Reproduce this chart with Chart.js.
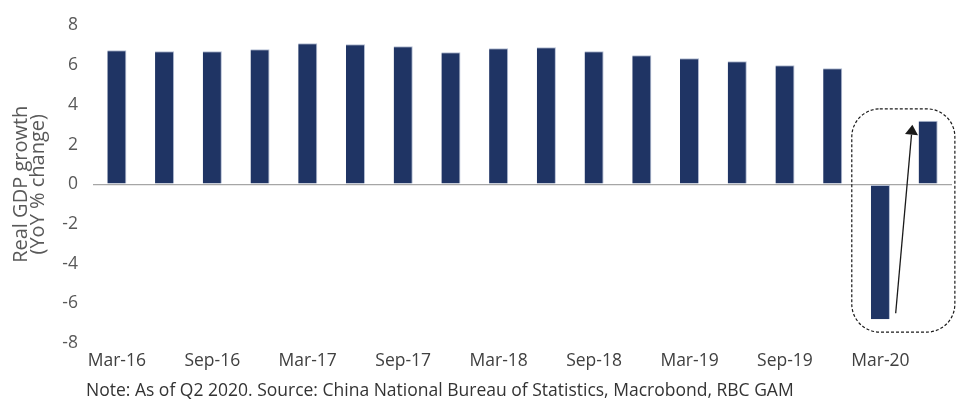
<!DOCTYPE html>
<html>
<head>
<meta charset="utf-8">
<script src="https://cdn.jsdelivr.net/npm/chart.js@4.4.1/dist/chart.umd.min.js"></script>
<style>
  html, body { margin: 0; padding: 0; background: #ffffff; }
  #wrap { width: 960px; height: 401px; }
</style>
</head>
<body>
<div id="wrap"><canvas id="gdpChart" width="960" height="401"></canvas></div>
<script>
// quarterly real GDP growth, YoY %
const categories = [
  "Mar-16", "Jun-16", "Sep-16", "Dec-16",
  "Mar-17", "Jun-17", "Sep-17", "Dec-17",
  "Mar-18", "Jun-18", "Sep-18", "Dec-18",
  "Mar-19", "Jun-19", "Sep-19", "Dec-19",
  "Mar-20", "Jun-20"
];
const gdpGrowth = [
  6.75, 6.7, 6.7, 6.8,
  7.1, 7.05, 6.95, 6.65,
  6.85, 6.9, 6.7, 6.5,
  6.35, 6.2, 6.0, 5.85,
  -6.8, 3.2
];
const yMin = -8;
const yMax = 8;
const yStep = 2;
const yTitle = ["Real GDP growth", "(YoY % change)"];
const noteText = "Note: As of Q2 2020. Source: China National Bureau of Statistics, Macrobond, RBC GAM";

// highlight around the covid drop and rebound (in category index / value units)
const highlightX = [15.4, 17.56];
const highlightY = [3.8, -7.45];
const arrowFrom = [16.32, -6.5];
const arrowTo = [16.67, 3.0];

/**************************************
 *   DESENHA CAIXA, SETA E NOTA
 **************************************/
const annotationPlugin = {
  id: "highlight",
  afterDraw(chart) {
    const ctx = chart.ctx;
    const xs = chart.scales.x;
    const ys = chart.scales.y;

    // dashed rounded box
    const x0 = xs.getPixelForValue(highlightX[0]);
    const x1 = xs.getPixelForValue(highlightX[1]);
    const y0 = ys.getPixelForValue(highlightY[0]);
    const y1 = ys.getPixelForValue(highlightY[1]);
    ctx.save();
    ctx.strokeStyle = "#1a1a1a";
    ctx.lineWidth = 1.2;
    ctx.setLineDash([3, 2]);
    ctx.beginPath();
    ctx.roundRect(x0, y0, x1 - x0, y1 - y0, 28);
    ctx.stroke();
    ctx.restore();

    // arrow
    const ax0 = xs.getPixelForValue(arrowFrom[0]);
    const ay0 = ys.getPixelForValue(arrowFrom[1]);
    const ax1 = xs.getPixelForValue(arrowTo[0]);
    const ay1 = ys.getPixelForValue(arrowTo[1]);
    const ang = Math.atan2(ay1 - ay0, ax1 - ax0);
    const headLen = 10;
    const headHalf = 6.5;
    const bx = ax1 - headLen * Math.cos(ang);
    const by = ay1 - headLen * Math.sin(ang);
    ctx.save();
    ctx.strokeStyle = "#1a1a1a";
    ctx.fillStyle = "#1a1a1a";
    ctx.lineWidth = 1.3;
    ctx.beginPath();
    ctx.moveTo(ax0, ay0);
    ctx.lineTo(bx, by);
    ctx.stroke();
    ctx.beginPath();
    ctx.moveTo(ax1, ay1);
    ctx.lineTo(bx + headHalf * Math.sin(ang), by - headHalf * Math.cos(ang));
    ctx.lineTo(bx - headHalf * Math.sin(ang), by + headHalf * Math.cos(ang));
    ctx.closePath();
    ctx.fill();
    ctx.restore();

    // source note
    ctx.save();
    ctx.font = "17.5px 'Open Sans'";
    ctx.fillStyle = "#333333";
    ctx.textBaseline = "middle";
    ctx.textAlign = "left";
    ctx.fillText(noteText, 86, 391);
    ctx.restore();
  }
};

/**************************************
 *            GRAFICO
 **************************************/
const ctx = document.getElementById("gdpChart").getContext("2d");
new Chart(ctx, {
  type: "bar",
  data: {
    labels: categories,
    datasets: [{
      data: gdpGrowth,
      backgroundColor: "#1f3464",
      borderColor: "#b3bdd3",
      borderWidth: { top: 1, right: 1, left: 0, bottom: 0 },
      borderSkipped: false,
      categoryPercentage: 1.0,
      barPercentage: 0.4
    }]
  },
  options: {
    responsive: false,
    devicePixelRatio: 1,
    animation: false,
    layout: { padding: { top: 22, right: 8, bottom: 21, left: 0 } },
    plugins: {
      legend: { display: false },
      tooltip: { enabled: false }
    },
    scales: {
      x: {
        grid: { display: false, drawTicks: false },
        border: { display: false },
        ticks: {
          autoSkip: false,
          maxRotation: 0,
          padding: 8,
          color: "#404040",
          font: { family: "Open Sans", size: 17.5 },
          callback: (val, i) => (i % 2 === 0 ? categories[i] : "")
        }
      },
      y: {
        min: yMin,
        max: yMax,
        afterFit: (scale) => { scale.width = 93; },
        grid: {
          drawTicks: false,
          color: (c) => (c.tick && c.tick.value === 0 ? "#a6a6a6" : "rgba(0,0,0,0)"),
          lineWidth: 1.3
        },
        border: { display: false },
        ticks: {
          stepSize: yStep,
          padding: 15,
          color: "#595959",
          font: { family: "Open Sans", size: 17.5 }
        },
        title: {
          display: true,
          text: yTitle,
          color: "#595959",
          padding: { top: 12, bottom: 0 },
          font: { family: "Open Sans", size: 20, lineHeight: 0.88 }
        }
      }
    }
  },
  plugins: [annotationPlugin]
});
</script>
</body>
</html>
